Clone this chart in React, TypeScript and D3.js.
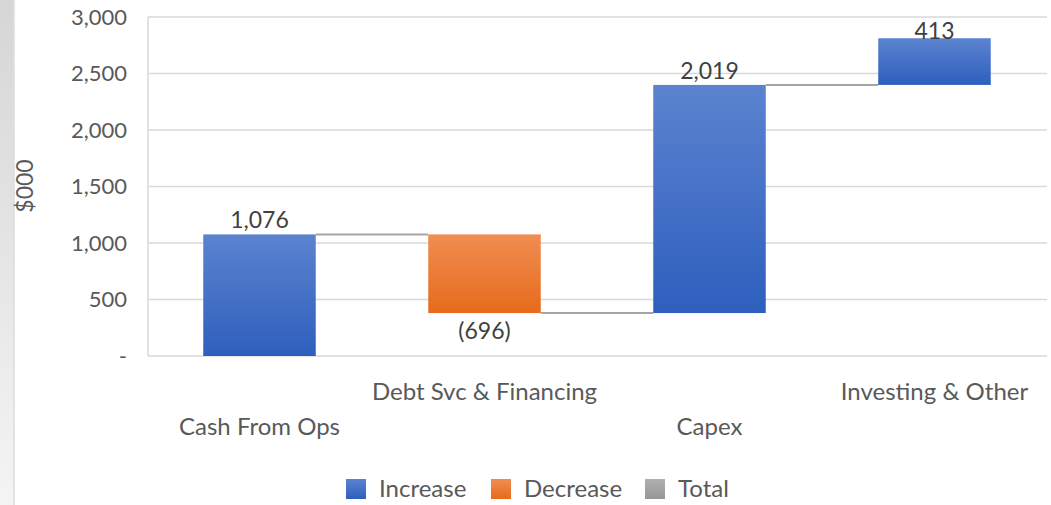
import React from "react";
import * as d3 from "d3";

const categories = ["Cash From Ops", "Debt Svc & Financing", "Capex", "Investing & Other"];
const changes = [1076, -696, 2019, 413];
const valueLabels = ["1,076", "(696)", "2,019", "413"];
const yTicks = [0, 500, 1000, 1500, 2000, 2500, 3000];
const legendItems = ["Increase", "Decrease", "Total"];

const W = 1051;
const H = 505;
const FONT = "Lato, 'Open Sans', sans-serif";
const TXT = "#595959";
const GRID = "#d9d9d9";

export default function App() {
  const x = d3.scaleBand<string>().domain(categories).range([147, 1047]).paddingInner(0.5).paddingOuter(0.25);
  const y = d3.scaleLinear().domain([0, 3000]).range([356, 17]);
  const fmt = (v: number) => (v === 0 ? "-" : d3.format(",")(v));

  let run = 0;
  const bars = changes.map((c, i) => {
    const start = run;
    const end = run + c;
    run = end;
    return { cat: categories[i], start, end, c, label: valueLabels[i] };
  });

  return (
    <svg width={W} height={H} style={{ display: "block", position: "absolute", left: 0, top: 0 }} fontFamily={FONT}>
      <defs>
        <linearGradient id="strip" x1="0" y1="0" x2="0" y2="1">
          <stop offset="0" stopColor="#d6d6d6" />
          <stop offset="1" stopColor="#f4f4f4" />
        </linearGradient>
        <linearGradient id="gInc" x1="0" y1="0" x2="0" y2="1">
          <stop offset="0" stopColor="#5b83cf" />
          <stop offset="1" stopColor="#2e5fbe" />
        </linearGradient>
        <linearGradient id="gDec" x1="0" y1="0" x2="0" y2="1">
          <stop offset="0" stopColor="#f08d52" />
          <stop offset="1" stopColor="#e66b1b" />
        </linearGradient>
        <linearGradient id="gTot" x1="0" y1="0" x2="0" y2="1">
          <stop offset="0" stopColor="#b0b0b0" />
          <stop offset="1" stopColor="#969696" />
        </linearGradient>
      </defs>
      <rect x={0} y={0} width={W} height={H} fill="#ffffff" />
      <rect x={0} y={0} width={14} height={H} fill="url(#strip)" />
      <line x1={14} x2={14} y1={0} y2={H} stroke="#dcdcdc" strokeWidth={1.5} />

      {yTicks.map((t) => (
        <g key={t}>
          {t > 0 && <line x1={148} x2={1047} y1={y(t)} y2={y(t)} stroke={GRID} strokeWidth={1.5} />}
          <text x={127} y={y(t)} dy="0.36em" textAnchor="end" fontSize={22} fill={TXT}>
            {fmt(t)}
          </text>
        </g>
      ))}
      <line x1={148} x2={148} y1={y(3000)} y2={y(0)} stroke={GRID} strokeWidth={1.5} />
      <line x1={148} x2={1047} y1={y(0)} y2={y(0)} stroke={GRID} strokeWidth={1.5} />

      <text transform={`translate(33,186) rotate(-90)`} textAnchor="middle" fontSize={23} fill={TXT}>
        $000
      </text>

      {bars.slice(0, -1).map((b, i) => (
        <line
          key={"c" + i}
          x1={(x(b.cat) as number) + x.bandwidth()}
          x2={x(bars[i + 1].cat) as number}
          y1={y(b.end)}
          y2={y(b.end)}
          stroke="#a5a5a5"
          strokeWidth={2}
        />
      ))}

      {bars.map((b) => {
        const top = y(Math.max(b.start, b.end));
        const bot = y(Math.min(b.start, b.end));
        const cx = (x(b.cat) as number) + x.bandwidth() / 2;
        const labelY = b.c >= 0 ? Math.max(top - 6, y(3000) + 22) : bot + 26;
        return (
          <g key={b.cat}>
            <rect
              x={x(b.cat)}
              y={top}
              width={x.bandwidth()}
              height={bot - top}
              fill={b.c >= 0 ? "url(#gInc)" : "url(#gDec)"}
            />
            <text x={cx} y={labelY} textAnchor="middle" fontSize={23} fill="#404040">
              {b.label}
            </text>
          </g>
        );
      })}

      {categories.map((c, i) => (
        <text
          key={c}
          x={(x(c) as number) + x.bandwidth() / 2}
          y={i % 2 === 0 ? 435 : 400}
          textAnchor="middle"
          fontSize={24}
          fill={TXT}
        >
          {c}
        </text>
      ))}

      {legendItems.map((l, i) => {
        const xs = [346, 491, 645][i];
        const fills = ["url(#gInc)", "url(#gDec)", "url(#gTot)"];
        return (
          <g key={l}>
            <rect x={xs} y={479} width={20} height={20} fill={fills[i]} />
            <text x={xs + 33} y={497} fontSize={24} fill={TXT}>
              {l}
            </text>
          </g>
        );
      })}
    </svg>
  );
}
